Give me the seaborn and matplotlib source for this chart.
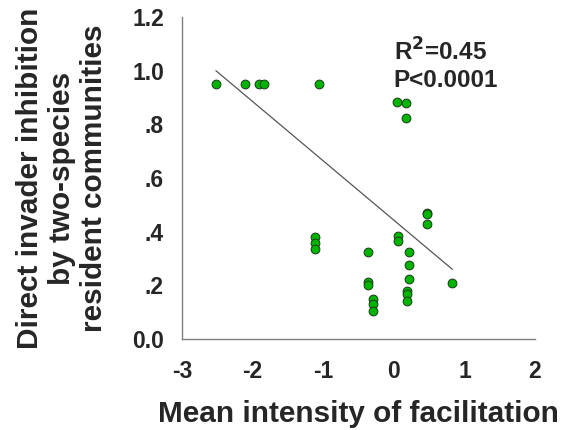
import matplotlib
matplotlib.use("Agg")
import matplotlib.pyplot as plt
import seaborn as sns
import pandas as pd

facilitation = [-2.52, -2.11, -1.91, -1.84, -1.06,
                0.04, 0.17, 0.17,
                -1.12, -1.12, -1.12,
                0.47, 0.47, 0.47,
                0.06, 0.06,
                -0.36, -0.36, -0.36,
                0.22, 0.22, 0.22,
                -0.30, -0.30, -0.30,
                0.18, 0.18, 0.18,
                0.83]
inhibition = [0.95, 0.95, 0.95, 0.95, 0.95,
              0.883, 0.88, 0.822,
              0.382, 0.357, 0.334,
              0.471, 0.464, 0.43,
              0.384, 0.365,
              0.324, 0.212, 0.2,
              0.324, 0.276, 0.224,
              0.148, 0.131, 0.103,
              0.179, 0.166, 0.141,
              0.21]
# reported regression line
fit_intercept = 0.443
fit_slope = -0.221

x_ticks = [-3, -2, -1, 0, 1, 2]
y_ticks = [0.0, 0.2, 0.4, 0.6, 0.8, 1.0, 1.2]
y_tick_labels = ["0.0", ".2", ".4", ".6", ".8", "1.0", "1.2"]

df = pd.DataFrame({"x": facilitation, "y": inhibition})
x_line = [min(facilitation), max(facilitation)]
line_df = pd.DataFrame({"x": x_line,
                        "y": [fit_intercept + fit_slope * v for v in x_line]})

sns.set_style("white")
plt.rcParams["font.family"] = ["Liberation Sans", "DejaVu Sans"]
plt.rcParams["font.weight"] = "bold"

fig = plt.figure(figsize=(5.66, 4.30), dpi=100)
ax = fig.add_axes([0.3216, 0.2116, 0.9452 - 0.3216, 0.9605 - 0.2116])

sns.lineplot(data=line_df, x="x", y="y", color="#555555", lw=0.9, ax=ax)
sns.scatterplot(data=df, x="x", y="y", color="#00B400", edgecolor="#1a3a1a",
                linewidth=0.7, s=40, ax=ax, zorder=3)

ax.set_xlim(-3, 2)
ax.set_ylim(0, 1.2)
ax.set_xticks(x_ticks)
ax.set_xticklabels([str(t) for t in x_ticks])
ax.set_yticks(y_ticks)
ax.set_yticklabels(y_tick_labels)
ax.tick_params(axis="both", direction="out", length=4, width=0.8, color="#808080",
               labelsize=16.5)
ax.tick_params(axis="y", pad=9)
ax.tick_params(axis="x", pad=11)
for lab in ax.get_xticklabels() + ax.get_yticklabels():
    lab.set_fontweight("bold")
for side in ["top", "right"]:
    ax.spines[side].set_visible(False)
for side in ["left", "bottom"]:
    ax.spines[side].set_color("#808080")
    ax.spines[side].set_linewidth(1.0)

ax.set_xlabel("Mean intensity of facilitation", fontsize=21.4, fontweight="bold", labelpad=12)
ax.set_ylabel("Direct invader inhibition\nby two-species\nresident communities",
              fontsize=21.4, fontweight="bold", labelpad=17, linespacing=1.2)

ax.text(0.0, 1.02, "R$^\\mathbf{2}$=0.45\nP<0.0001", fontsize=17.5, fontweight="bold",
        ha="left", va="center", linespacing=1.2)

fig.savefig("out.png", dpi=100)
